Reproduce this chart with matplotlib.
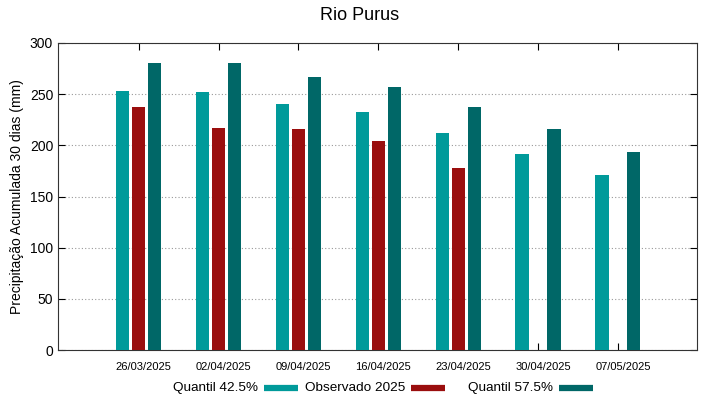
import numpy as np
import matplotlib.pyplot as plt
from matplotlib.lines import Line2D
from matplotlib.transforms import ScaledTranslation

plt.rcParams['font.family'] = ['Liberation Sans', 'DejaVu Sans']

# data
dates = ['26/03/2025', '02/04/2025', '09/04/2025', '16/04/2025',
         '23/04/2025', '30/04/2025', '07/05/2025']
q425 = [253, 252, 240, 233, 212.5, 192, 171]
obs2025 = [237.5, 217, 216, 204, 177.5, np.nan, np.nan]
q575 = [280, 280, 267, 257, 237, 215.5, 193]

series_names = ['Quantil 42.5%', 'Observado 2025', 'Quantil 57.5%']
c_q425 = '#009a9a'
c_obs = '#9a0e0e'
c_q575 = '#006767'

W, H = 719, 399
fig = plt.figure(figsize=(W / 100, H / 100), dpi=100)
ax = fig.add_axes([58 / W, 1 - 350 / H, 639 / W, 307 / H])

x = np.arange(len(dates))
w = 0.165
ax.bar(x - 0.2, q425, w, color=c_q425, zorder=3)
ax.bar(x, obs2025, w, color=c_obs, zorder=3)
ax.bar(x + 0.2, q575, w, color=c_q575, zorder=3)

ax.set_xlim(-1.01, 6.99)
ax.set_ylim(0, 300)
ax.set_yticks(np.arange(0, 301, 50))
ax.set_xticks(x)
ax.set_xticklabels(dates, fontsize=8)
ax.tick_params(axis='y', labelsize=10, direction='in', right=True, length=5)
ax.tick_params(axis='x', direction='in', top=True, length=5, pad=9)
# gnuplot puts the date labels a few pixels right of the ticks
shift = ScaledTranslation(5 / 100, 0, fig.dpi_scale_trans)
for lbl in ax.get_xticklabels():
    lbl.set_transform(lbl.get_transform() + shift)
ax.grid(axis='y', linestyle=(0, (1, 2)), color='#999999', linewidth=0.8, zorder=0)
for s in ax.spines.values():
    s.set_color('#333333')

ax.set_ylabel('Precipitação Acumulada 30 dias (mm)', fontsize=10)
fig.text(0.5, 1 - 16 / H, 'Rio Purus', ha='center', va='center', fontsize=13)

# gnuplot-style key: text then swatch, laid out by hand
ly = 1 - 388 / H
for name, c, tx in zip(series_names, (c_q425, c_obs, c_q575), (258, 405, 553)):
    fig.text(tx / W, ly, name, ha='right', va='center', fontsize=9.7)
    fig.add_artist(Line2D([(tx + 6) / W, (tx + 40) / W], [ly, ly],
                          color=c, lw=4.5, solid_capstyle='butt',
                          transform=fig.transFigure))

fig.savefig('out.png', dpi=100)
